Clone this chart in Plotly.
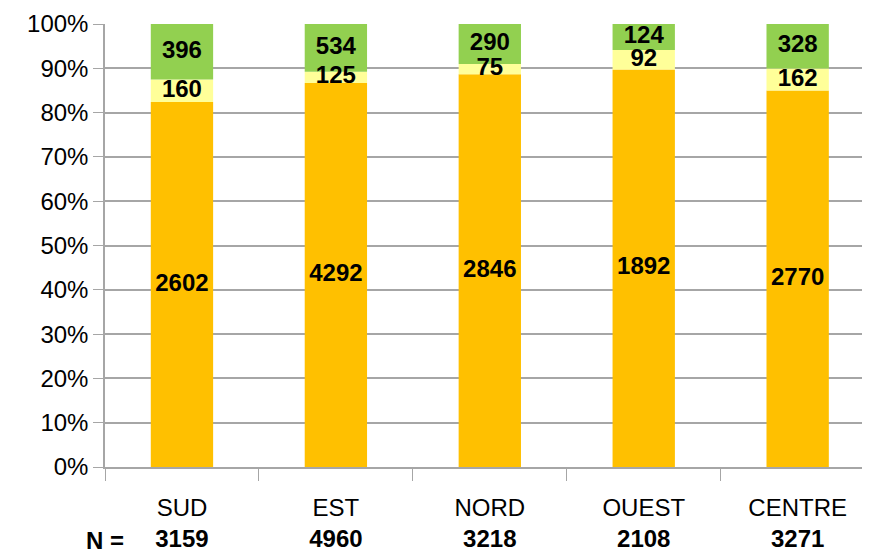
import plotly.graph_objects as go

# regions and counts per response group
regions = ['SUD', 'EST', 'NORD', 'OUEST', 'CENTRE']
n_total = [3159, 4960, 3218, 2108, 3271]
orange_vals = [2602, 4292, 2846, 1892, 2770]
yellow_vals = [160, 125, 75, 92, 162]
green_vals = [396, 534, 290, 124, 328]

font_fam = "Liberation Sans Narrow, Liberation Sans, Arial Narrow, sans-serif"

tick_text = [f"{r}<br><b>{n}</b>" for r, n in zip(regions, n_total)]

series = [(orange_vals, '#FFC000'), (yellow_vals, '#FFFF99'), (green_vals, '#92D050')]
totals = [sum(t) for t in zip(orange_vals, yellow_vals, green_vals)]

fig = go.Figure()
base = [0.0] * len(regions)
for vals, col in series:
    pct = [v / t * 100 for v, t in zip(vals, totals)]
    fig.add_trace(go.Bar(
        x=regions, y=pct, base=base, marker=dict(color=col, line=dict(width=0)),
        width=0.405, hoverinfo='skip',
    ))
    mids = [b + p / 2 for b, p in zip(base, pct)]
    fig.add_trace(go.Scatter(
        x=regions, y=mids, mode='text', text=[f"<b>{v}</b>" for v in vals],
        textposition='middle center', cliponaxis=False,
        textfont=dict(family=font_fam, size=24, color='black'),
    ))
    base = [b + p for b, p in zip(base, pct)]

# page body has an 8px margin, so the figure is a bit smaller than the window
fig.update_layout(
    barmode='overlay',
    width=862, height=547,
    margin=dict(l=97, r=0, t=16, b=88),
    plot_bgcolor='white', paper_bgcolor='white',
    showlegend=False,
    font=dict(family=font_fam, size=24, color='black'),
)
fig.update_yaxes(
    range=[0, 100], dtick=10, ticksuffix='%',
    showgrid=True, gridcolor='#A6A6A6', gridwidth=1.5,
    showline=True, linecolor='#A6A6A6', linewidth=1.5,
    ticks='outside', ticklen=10, tickcolor='#A6A6A6',
    tickfont=dict(size=24), zeroline=False, automargin=False,
)
fig.update_xaxes(
    range=[-0.5, 4.47],
    tickmode='array', tickvals=regions, ticktext=tick_text,
    tickson='boundaries', ticks='outside', ticklen=12, tickcolor='#A6A6A6',
    showline=True, linecolor='#A6A6A6', linewidth=1.5,
    tickfont=dict(size=24), ticklabelstandoff=18, automargin=False,
)
fig.add_annotation(
    text='<b>N =</b>', xref='paper', yref='paper', x=0.0, y=-0.165,
    xanchor='center', yanchor='middle', showarrow=False,
    font=dict(family=font_fam, size=24, color='black'),
)

fig.write_html("out.html")
